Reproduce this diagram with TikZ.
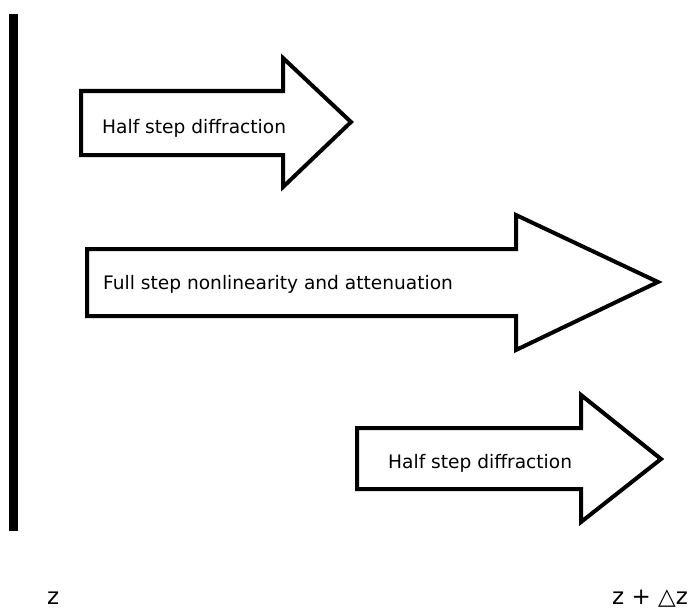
\documentclass[tikz,border=0pt]{standalone}
\usepackage{fontspec}
\setmainfont{DejaVu Sans}
\begin{document}
\begin{tikzpicture}[x=1pt,y=-1pt,
  arrowshape/.style={draw=black,line width=4pt,line join=miter,fill=white},
  label/.style={inner sep=0pt,anchor=base west,font=\fontsize{18.6}{20}\selectfont},
  zlabel/.style={inner sep=0pt,anchor=base west,font=\fontsize{23}{25}\selectfont},
  bar/.style={fill=black}]
\useasboundingbox (0,0) rectangle (699,610);
\fill[bar] (9,14) rectangle (18,531);
% arrow 1
\draw[arrowshape] (81,91) -- (283,91) -- (283,58) -- (351,122) -- (283,187) -- (283,155) -- (81,155) -- cycle;
\node[label] (t1) at (102,133) {Half step diffraction};
% arrow 2
\draw[arrowshape] (87,249) -- (516,249) -- (516,215) -- (658,282) -- (516,350) -- (516,316) -- (87,316) -- cycle;
\node[label] (t2) at (103,289) {Full step nonlinearity and attenuation};
% arrow 3
\draw[arrowshape] (357,428) -- (581,428) -- (581,395) -- (661,459) -- (581,522) -- (581,489) -- (357,489) -- cycle;
\node[label] (t3) at (388,468) {Half step diffraction};
\node[zlabel] (z0) at (47,604) {z};
\node[zlabel] (z1) at (612,604) {z + △z};
\end{tikzpicture}
\end{document}
